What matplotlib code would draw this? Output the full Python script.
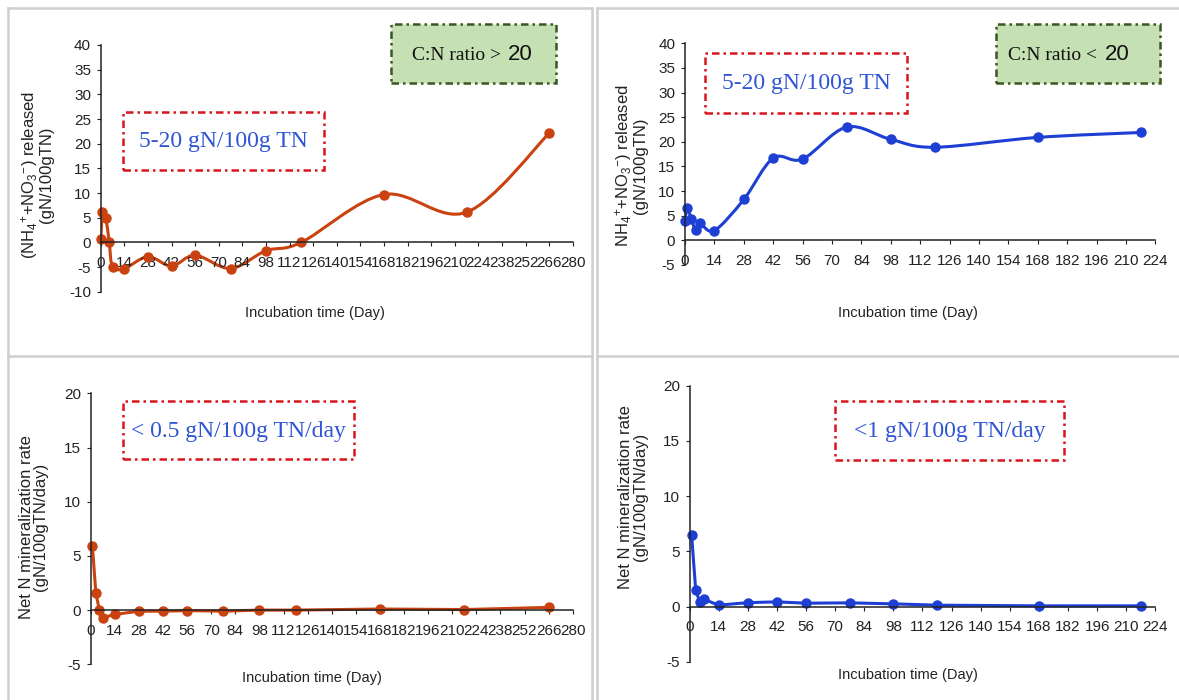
import numpy as np
import matplotlib
matplotlib.use("Agg")
import matplotlib.pyplot as plt
from matplotlib.path import Path
from matplotlib.patches import PathPatch, Rectangle
from matplotlib.lines import Line2D

plt.rcParams['font.family'] = ['Liberation Sans', 'DejaVu Sans']
plt.rcParams['mathtext.fontset'] = 'custom'
plt.rcParams['mathtext.rm'] = 'Liberation Sans'
plt.rcParams['mathtext.it'] = 'Liberation Sans:italic'
plt.rcParams['mathtext.default'] = 'regular'
plt.rcParams['axes.unicode_minus'] = False

# Datos
days_hi = [0, 1, 3, 5, 7, 14, 28, 42, 56, 77, 98, 119, 168, 217, 266]
cum_hi = [0.6, 6.2, 4.9, 0.0, -4.9, -5.3, -2.9, -4.8, -2.6, -5.3, -1.7, 0.0, 9.7, 6.1, 22.1]

days_lo = [0, 1, 3, 5, 7, 14, 28, 42, 56, 77, 98, 119, 168, 217]
cum_lo = [4.0, 6.5, 4.4, 2.2, 3.5, 2.0, 8.3, 16.7, 16.5, 23.0, 20.5, 18.9, 20.9, 21.9]

rate_days_hi = [1, 3, 5, 7, 14, 28, 42, 56, 77, 98, 119, 168, 217, 266]
rate_hi = [5.9, 1.55, 0.05, -0.7, -0.4, -0.1, -0.1, -0.05, -0.1, 0.0, 0.0, 0.1, 0.05, 0.25]

rate_days_lo = [1, 3, 5, 7, 14, 28, 42, 56, 77, 98, 119, 168, 217]
rate_lo = [6.5, 1.45, 0.4, 0.65, 0.12, 0.35, 0.42, 0.3, 0.33, 0.24, 0.12, 0.06, 0.06]

RED = '#c9420f'
BLUE = '#1d3fd3'
W, H = 1179, 700

fig = plt.figure(figsize=(W / 100, H / 100), dpi=100)


def px_axes(x0, x1, ytop, ybot):
    return fig.add_axes([x0 / W, 1 - ybot / H, (x1 - x0) / W, (ybot - ytop) / H])


def smooth_path(x, y):
    # curva tipo Excel (Bezier cubica por los puntos)
    pts = np.column_stack([x, y]).astype(float)
    n = len(pts)
    verts = [pts[0]]
    codes = [Path.MOVETO]
    for i in range(n - 1):
        p0 = pts[i - 1] if i > 0 else pts[i]
        p1, p2 = pts[i], pts[i + 1]
        p3 = pts[i + 2] if i + 2 < n else pts[i + 1]
        verts += [p1 + (p2 - p0) / 6, p2 - (p3 - p1) / 6, p2]
        codes += [Path.CURVE4] * 3
    return Path(verts, codes)


def style(ax, xmax, ymin, ymax, ystep):
    ax.set_xlim(0, xmax)
    ax.set_ylim(ymin, ymax)
    ax.set_xticks(np.arange(0, xmax + 1, 14))
    ax.set_yticks(np.arange(ymin, ymax + 1, ystep))
    for s in ['top', 'right']:
        ax.spines[s].set_visible(False)
    ax.spines['bottom'].set_position(('data', 0))
    for s in ['left', 'bottom']:
        ax.spines[s].set_color('#222222')
        ax.spines[s].set_linewidth(1.1)
    ax.tick_params(axis='x', direction='out', length=3, pad=7, labelsize=11,
                   colors='#222222')
    ax.tick_params(axis='y', direction='out', length=3, pad=4, labelsize=11,
                   colors='#222222')
    ax.patch.set_alpha(0)


def box(x0, x1, ytop, ybot, face, edge):
    r = Rectangle((x0 / W, 1 - ybot / H), (x1 - x0) / W, (ybot - ytop) / H,
                  transform=fig.transFigure, facecolor=face, edgecolor=edge,
                  lw=1.8, linestyle=(0, (3, 1.6, 1, 1.6)))
    fig.add_artist(r)


# Marcos grises de los paneles
for seg in [((8, 592), (8, 8)), ((8, 8), (8, 700)), ((592, 592), (8, 700)),
            ((8, 592), (356, 356)), ((597, 1179), (8, 8)), ((597, 597), (8, 700)),
            ((597, 1179), (356, 356))]:
    fig.add_artist(Line2D([v / W for v in seg[0]], [1 - v / H for v in seg[1]],
                          transform=fig.transFigure, color='#cfcfcf', lw=1.8))

# Panel superior izquierdo
ax1 = px_axes(100.8, 572.7, 45, 291.7)
style(ax1, 280, -10, 40, 5)
ax1.add_patch(PathPatch(smooth_path(days_hi, cum_hi), facecolor='none',
                        edgecolor=RED, lw=2.2, joinstyle='round'))
ax1.plot(days_hi, cum_hi, 'o', color=RED, ms=6.5, clip_on=False)

# Panel superior derecho
ax2 = px_axes(685, 1155.4, 43.3, 265)
style(ax2, 224, -5, 40, 5)
ax2.add_patch(PathPatch(smooth_path(days_lo, cum_lo), facecolor='none',
                        edgecolor=BLUE, lw=2.2, joinstyle='round'))
ax2.plot(days_lo, cum_lo, 'o', color=BLUE, ms=6.5, clip_on=False)

# Panel inferior izquierdo
ax3 = px_axes(90.7, 572.7, 393.3, 664.3)
style(ax3, 280, -5, 20, 5)
ax3.plot(rate_days_hi, rate_hi, '-o', color=RED, lw=2.2, ms=6.5, clip_on=False)

# Panel inferior derecho
ax4 = px_axes(689.5, 1155.4, 385.7, 661.7)
style(ax4, 224, -5, 20, 5)
ax4.plot(rate_days_lo, rate_lo, '-o', color=BLUE, lw=2.2, ms=6.5, clip_on=False)

# Titulos de ejes
for x, y in [(315, 313), (908, 313), (312, 678), (907.6, 675)]:
    fig.text(x / W, 1 - y / H, 'Incubation time (Day)', ha='center', va='center',
             fontsize=10.5, color='#222222')

ylab_cum1 = '(NH$_4$$^{+}$+NO$_3$$^{-}$) released\n(gN/100gTN)'
ylab_cum2 = 'NH$_4$$^{+}$+NO$_3$$^{-}$) released\n(gN/100gTN)'
ylab_rate = 'Net N mineralization rate\n(gN/100gTN/day)'
for x, y, t in [(36.5, 175, ylab_cum1), (630.5, 166, ylab_cum2),
                (33.5, 527, ylab_rate), (633, 497, ylab_rate)]:
    fig.text(x / W, 1 - y / H, t, rotation=90, ha='center', va='center',
             fontsize=12, color='#222222', linespacing=0.95, multialignment='center')

# Cuadros de texto
GREEN_F, GREEN_E = '#c5e0b3', '#385723'
BOX_RED = '#d9141b'
TXT_BLUE = '#2f55d4'

box(391, 556, 24, 83, GREEN_F, GREEN_E)
fig.text(500.5 / W, 1 - 55 / H, 'C:N ratio >', ha='right', va='center',
         fontsize=14, family='Liberation Serif', color='#111111')
fig.text(508 / W, 1 - 55 / H, '20', ha='left', va='center', fontsize=16, color='#111111')

box(996, 1160, 24, 83, GREEN_F, GREEN_E)
fig.text(1097 / W, 1 - 55 / H, 'C:N ratio <', ha='right', va='center',
         fontsize=14, family='Liberation Serif', color='#111111')
fig.text(1105 / W, 1 - 55 / H, '20', ha='left', va='center', fontsize=16, color='#111111')

for x0, x1, yt, yb, t in [(123, 324, 112, 170, '5-20 gN/100g TN'),
                          (705, 907, 53, 113, '5-20 gN/100g TN'),
                          (123, 354, 401, 459, '< 0.5 gN/100g TN/day'),
                          (835, 1064, 401, 460, '<1 gN/100g TN/day')]:
    box(x0, x1, yt, yb, 'none', BOX_RED)
    fig.text((x0 + x1) / 2 / W, 1 - ((yt + yb) / 2 + 1) / H, t, ha='center', va='center',
             fontsize=17, family='Liberation Serif', color=TXT_BLUE)

fig.savefig('out.png', dpi=100)
